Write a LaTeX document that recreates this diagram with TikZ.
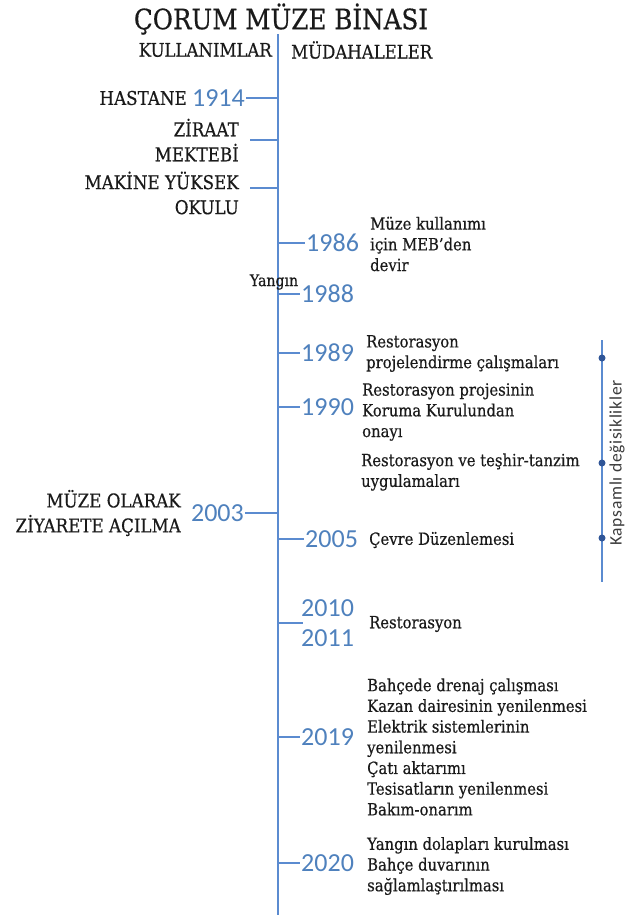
\documentclass[tikz,border=0pt]{standalone}
\usepackage{fontspec}
\setmainfont{DejaVu Serif}[FakeStretch=0.88,FakeBold=0.5]
\newfontfamily\yearfont{Carlito}
\newfontfamily\sidefont{Carlito}[LetterSpace=4]
\definecolor{lineblue}{HTML}{5B8BD0}
\definecolor{yearblue}{HTML}{4F81BD}
\definecolor{dotblue}{HTML}{2F5597}
\definecolor{txt}{HTML}{1A1A1A}
\begin{document}
\begin{tikzpicture}[x=1pt,y=-1pt,
  axis/.style={draw=lineblue,line width=1.2pt},
  tick/.style={draw=lineblue,line width=1.2pt},
  year/.style={text=yearblue,font=\yearfont\fontsize{26}{28}\selectfont,inner sep=1pt},
  lbl/.style={text=txt,font=\fontsize{19}{25}\selectfont,inner sep=0pt,align=right,anchor=east},
  rtext/.style={text=txt,font=\fontsize{16.8}{20.7}\selectfont,inner sep=0pt,align=left,anchor=west},
  dot/.style={circle,fill=dotblue,inner sep=0pt,minimum size=7pt}]
\useasboundingbox (0,0) rectangle (627,918);
% title and headings
\node[text=txt,font=\fontsize{28}{30}\selectfont,inner sep=0pt] (title) at (281,19) {ÇORUM MÜZE BİNASI};
\node[text=txt,font=\fontsize{18.8}{22}\selectfont,inner sep=0pt,anchor=east] (kul) at (272,50) {KULLANIMLAR};
\node[text=txt,font=\fontsize{18.8}{22}\selectfont,inner sep=0pt,anchor=west] (mud) at (291,50) {MÜDAHALELER};
% axis
\coordinate (top) at (278,34);
\coordinate (bot) at (278,915);
\draw[axis] (top) -- (bot);
% 1914
\coordinate (a1914) at (278,98);
\node[year,anchor=east] (y1914) at (246,98) {1914};
\node[lbl] (l1914) at (187,98) {HASTANE};
\draw[tick] (y1914.east) -- (a1914);
% Ziraat
\coordinate (aZ) at (278,140);
\coordinate (eZ) at (250,140);
\node[lbl] (lZ) at (239,140) {ZİRAAT\\MEKTEBİ};
\draw[tick] (eZ) -- (aZ);
% Makine
\coordinate (aM) at (278,188);
\coordinate (eM) at (250,188);
\node[lbl] (lM) at (239,193) {MAKİNE YÜKSEK\\OKULU};
\draw[tick] (eM) -- (aM);
% 1986
\coordinate (a1986) at (278,243);
\node[year,anchor=west] (y1986) at (305,243) {1986};
\draw[tick] (a1986) -- (y1986.west);
\node[rtext] (t1986) at (370,244) {Müze kullanımı\\için MEB’den\\devir};
% 1988
\node[text=txt,font=\fontsize{16}{18}\selectfont,inner sep=0pt] (yangin) at (274,282) {Yangın};
\coordinate (a1988) at (278,294);
\node[year,anchor=west] (y1988) at (300,294) {1988};
\draw[tick] (a1988) -- (y1988.west);
% 1989
\coordinate (a1989) at (278,353);
\node[year,anchor=west] (y1989) at (300,353) {1989};
\draw[tick] (a1989) -- (y1989.west);
\node[rtext] (t1989) at (366,353.5) {Restorasyon\\projelendirme çalışmaları};
% 1990
\coordinate (a1990) at (278,407);
\node[year,anchor=west] (y1990) at (300,407) {1990};
\draw[tick] (a1990) -- (y1990.west);
\node[rtext] (t1990) at (362,412) {Restorasyon projesinin\\Koruma Kurulundan\\onayı};
% restoration & display
\node[rtext] (tRT) at (361,472) {Restorasyon ve teşhir-tanzim\\uygulamaları};
% 2003
\coordinate (a2003) at (278,513);
\node[year,anchor=east] (y2003) at (245,513) {2003};
\draw[tick] (y2003.east) -- (a2003);
\node[lbl] (l2003) at (181,513) {MÜZE OLARAK\\ZİYARETE AÇILMA};
% 2005
\coordinate (a2005) at (278,539);
\node[year,anchor=west] (y2005) at (304,539) {2005};
\draw[tick] (a2005) -- (y2005.west);
\node[rtext] (t2005) at (369,540) {Çevre Düzenlemesi};
% 2010/2011
\coordinate (a2010) at (278,623);
\coordinate (e2010) at (303,623);
\draw[tick] (a2010) -- (e2010);
\node[year,anchor=west] (y2010) at (300,608) {2010};
\node[year,anchor=west] (y2011) at (300,638) {2011};
\node[rtext] (t2010) at (369,624) {Restorasyon};
% 2019
\coordinate (a2019) at (278,737);
\node[year,anchor=west] (y2019) at (300,737) {2019};
\draw[tick] (a2019) -- (y2019.west);
\node[rtext] (t2019) at (367,747) {Bahçede drenaj çalışması\\Kazan dairesinin yenilenmesi\\Elektrik sistemlerinin\\yenilenmesi\\Çatı aktarımı\\Tesisatların yenilenmesi\\Bakım-onarım};
% 2020
\coordinate (a2020) at (278,863);
\node[year,anchor=west] (y2020) at (300,863) {2020};
\draw[tick] (a2020) -- (y2020.west);
\node[rtext] (t2020) at (367,866) {Yangın dolapları kurulması\\Bahçe duvarının\\sağlamlaştırılması};
% bracket
\coordinate (btop) at (602,340);
\coordinate (bbot) at (602,582);
\draw[draw=lineblue,line width=1.2pt] (btop) -- (bbot);
\node[dot] (d1) at (602,358) {};
\node[dot] (d2) at (602,463) {};
\node[dot] (d3) at (602,538) {};
\node[text=txt!85,font=\sidefont\fontsize{17.5}{19}\selectfont,rotate=90,inner sep=0pt] (kaps) at (617,463) {Kapsamlı değisiklikler};
\end{tikzpicture}
\end{document}
